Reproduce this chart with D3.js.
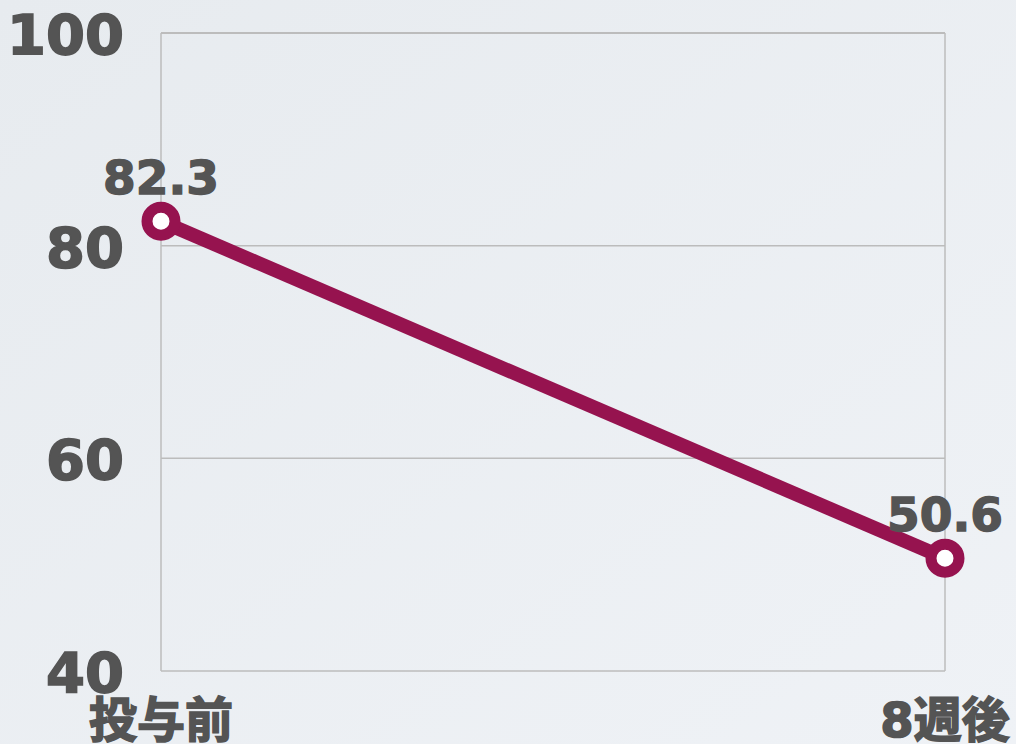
<!DOCTYPE html>
<html>
<head>
<meta charset="utf-8">
<script src="https://cdn.jsdelivr.net/npm/d3@7"></script>
<style>
  html, body { margin: 0; padding: 0; }
  body { width: 1016px; height: 744px; overflow: hidden; }
</style>
</head>
<body>
<script>
// chart data
var categories = ["投与前", "8週後"];
var values = [82.3, 50.6];
var yTicks = [40, 60, 80, 100];

var width = 1016, height = 744;
var margin = {top: 33, right: 71, bottom: 73, left: 161};

var svg = d3.select("body").append("svg")
  .attr("width", width)
  .attr("height", height);

// soft background
var grad = svg.append("defs").append("linearGradient")
  .attr("id", "bg")
  .attr("x1", "0").attr("y1", "0").attr("x2", "1").attr("y2", "1");
grad.append("stop").attr("offset", "0%").attr("stop-color", "#e7ebef");
grad.append("stop").attr("offset", "100%").attr("stop-color", "#eff2f6");
svg.append("rect").attr("width", width).attr("height", height).attr("fill", "url(#bg)");

var x = d3.scalePoint()
  .domain(categories)
  .range([margin.left, width - margin.right]);

var y = d3.scaleLinear()
  .domain([40, 100])
  .range([height - margin.bottom, margin.top]);

// gridlines
svg.append("g")
  .selectAll("line")
  .data(yTicks)
  .enter().append("line")
  .attr("x1", margin.left)
  .attr("x2", width - margin.right)
  .attr("y1", function (d) { return y(d); })
  .attr("y2", function (d) { return y(d); })
  .attr("stroke", "#bcbcbc")
  .attr("stroke-width", function (d) { return d == 100 ? 2 : 1.5; });

// frame sides
svg.append("g")
  .selectAll("line")
  .data(categories)
  .enter().append("line")
  .attr("x1", function (d) { return x(d); })
  .attr("x2", function (d) { return x(d); })
  .attr("y1", y(100))
  .attr("y2", y(40))
  .attr("stroke", "#bcbcbc")
  .attr("stroke-width", 1.5);

var font = "'DejaVu Sans', 'Noto Sans CJK JP', sans-serif";

// y tick labels
svg.append("g")
  .selectAll("text")
  .data(yTicks)
  .enter().append("text")
  .attr("x", 124)
  .attr("y", function (d) { return y(d) + 21; })
  .attr("text-anchor", "end")
  .attr("font-family", font)
  .attr("font-weight", "bold")
  .attr("font-size", 56)
  .attr("fill", "#545454")
  .attr("stroke", "#545454")
  .attr("stroke-width", 1.6)
  .text(function (d) { return d; });

// x labels
svg.append("g")
  .selectAll("text")
  .data(categories)
  .enter().append("text")
  .attr("x", function (d) { return x(d); })
  .attr("y", 737)
  .attr("text-anchor", "middle")
  .attr("font-family", "'DejaVu Sans', 'Noto Sans CJK JP', sans-serif")
  .attr("font-weight", "bold")
  .attr("font-size", 48)
  .attr("fill", "#545454")
  .attr("stroke", "#545454")
  .attr("stroke-width", 1.6)
  .text(function (d) { return d; });

var pts = categories.map(function (c, i) { return {cat: c, val: values[i]}; });

var line = d3.line()
  .x(function (d) { return x(d.cat); })
  .y(function (d) { return y(d.val); });

svg.append("path")
  .datum(pts)
  .attr("d", line)
  .attr("fill", "none")
  .attr("stroke", "#96134f")
  .attr("stroke-width", 14);

svg.append("g")
  .selectAll("circle")
  .data(pts)
  .enter().append("circle")
  .attr("cx", function (d) { return x(d.cat); })
  .attr("cy", function (d) { return y(d.val); })
  .attr("r", 14)
  .attr("fill", "#ffffff")
  .attr("stroke", "#96134f")
  .attr("stroke-width", 11);

// value labels
svg.append("g")
  .selectAll("text")
  .data(pts)
  .enter().append("text")
  .attr("x", function (d) { return x(d.cat); })
  .attr("y", function (d) { return y(d.val) - 27; })
  .attr("text-anchor", "middle")
  .attr("font-family", font)
  .attr("font-weight", "bold")
  .attr("font-size", 47)
  .attr("fill", "#545454")
  .attr("stroke", "#545454")
  .attr("stroke-width", 1.4)
  .text(function (d) { return d.val.toFixed(1); });
</script>
</body>
</html>
